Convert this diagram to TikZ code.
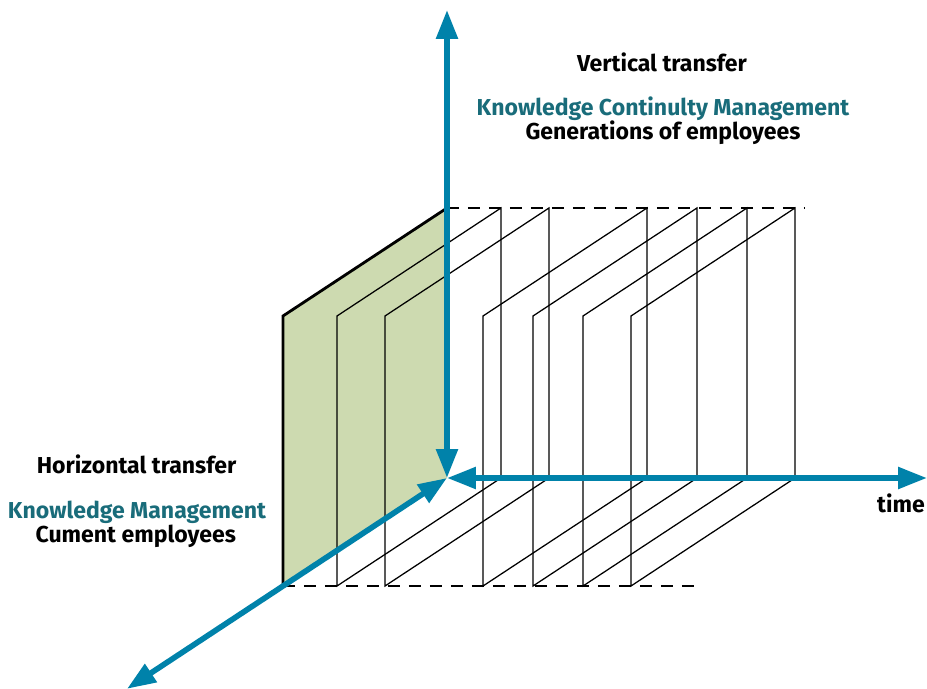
\documentclass[tikz,border=0pt]{standalone}
\usepackage{fontspec}
\setmainfont{Fira Sans}
\usetikzlibrary{arrows.meta}

\definecolor{axisblue}{RGB}{0,130,170}
\definecolor{kmteal}{RGB}{25,108,122}
\definecolor{panelgreen}{RGB}{205,218,176}

\begin{document}
\begin{tikzpicture}[
		axis/.style={<->, line width=4pt, axisblue, >={Triangle[length=0.72cm,width=0.52cm]}},
		edge/.style={line width=1.8pt, dash pattern=on 0.29cm off 0.235cm},
		label/.style={font=\fontsize{16.4}{19}\selectfont\bfseries, inner sep=1pt},
		kmlabel/.style={label, text=kmteal}
	]
		\useasboundingbox (-11.175,-5.25) rectangle (12,11.95);
		\newcommand\timeframe[1]{ %% argument 1: x-position of the front edge
			\draw[line width=0.9pt] (#1,-2.7) -- (#1,4.05) -- ++(4.1,2.7) -- ++(0,-6.75) -- cycle;
		}
		
		\fill[panelgreen] (-4.1,-2.7) -- (-4.1,4.05) -- (0,6.75) -- (0,0) -- cycle;
		\draw[line width=2pt] (-4.1,-2.7) -- (-4.1,4.05) -- (0,6.75);
		
		\timeframe{-2.75}
		\timeframe{-1.55}
		\timeframe{0.9}
		\timeframe{2.15}
		\timeframe{3.4}
		\timeframe{4.6}
		
		\draw[edge] (0,6.75) -- (8.95,6.75);
		\draw[edge] (-4.1,-2.7) -- (6.2,-2.7);
		
		\coordinate (O) at (0,0);
		\coordinate (vtop) at (0,11.7);
		\coordinate (hend) at (12,0);
		\coordinate (dend) at (-8,-5.27);
		\draw[axis] (O) -- (vtop);
		\draw[axis] (O) -- (hend);
		\draw[axis] (O) -- (dend);
		
		\node[label] (vt) at (5.375,10.4) {Vertical transfer};
		\node[kmlabel] (kcm) at (5.4,9.22) {Knowledge Continulty Management};
		\node[label] (gen) at (5.4,8.62) {Generations of employees};
		\node[label] (ht) at (-7.76,0.35) {Horizontal transfer};
		\node[kmlabel] (km) at (-7.75,-0.85) {Knowledge Management};
		\node[label] (cur) at (-7.78,-1.45) {Cument employees};
		\node[label] (time) at (11.35,-0.625) {time};
	\end{tikzpicture}
\end{document}
